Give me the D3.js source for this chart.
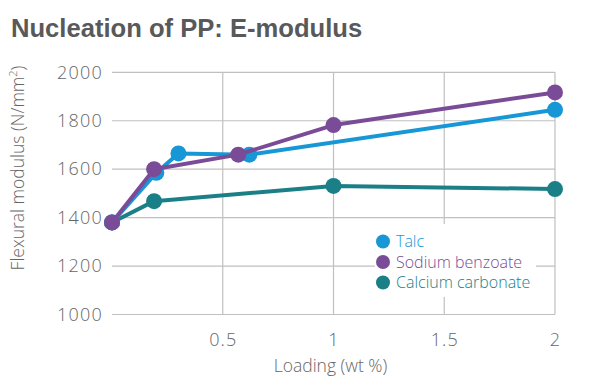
<!DOCTYPE html>
<html>
<head>
<meta charset="utf-8">
<script src="https://cdn.jsdelivr.net/npm/d3@7"></script>
<style>
  body { margin: 0; background: #fff; }
  text { font-family: "Open Sans", sans-serif; }
</style>
</head>
<body>
<div class="chart-box"></div>
<script>
// chart data
const talcX = [0, 0.2, 0.3, 0.62, 2];
const talcY = [1380, 1585, 1665, 1660, 1845];
const sodiumX = [0, 0.19, 0.57, 1, 2];
const sodiumY = [1380, 1600, 1660, 1782, 1917];
const calciumX = [0, 0.19, 1, 2];
const calciumY = [1380, 1468, 1531, 1518];
const xTicks = [0.5, 1, 1.5, 2];
const yTicks = [1000, 1200, 1400, 1600, 1800, 2000];
const legendNames = ["Talc", "Sodium benzoate", "Calcium carbonate"];

const colors = {
    "Talc": "#1797d6",
    "Sodium benzoate": "#7a4b96",
    "Calcium carbonate": "#1b7f88"
};

// draw order: teal, blue, purple (purple sits on top at the left)
const series = [
    { name: "Calcium carbonate", pts: calciumX.map((x, i) => ({ x: x, y: calciumY[i] })) },
    { name: "Talc", pts: talcX.map((x, i) => ({ x: x, y: talcY[i] })) },
    { name: "Sodium benzoate", pts: sodiumX.map((x, i) => ({ x: x, y: sodiumY[i] })) }
];

const svg = d3.select(".chart-box").append("svg")
    .attr("width", 596)
    .attr("height", 389);

//title
svg.append("text")
    .attr("x", 11)
    .attr("y", 37)
    .attr("font-size", "25.6px")
    .attr("font-weight", "bold")
    .attr("fill", "#58595b")
    .style("font-family", "'Liberation Sans', Arial, sans-serif")
    .text("Nucleation of PP: E-modulus");

const xScale = d3.scaleLinear().domain([0, 2]).range([112, 555]);
const yScale = d3.scaleLinear().domain([1000, 2000]).range([314.5, 72.3]);

//grid lines
const grid = svg.append("g");
grid.selectAll(".hgrid")
    .data(yTicks)
    .enter().append("line")
    .attr("x1", xScale(0))
    .attr("x2", xScale(2))
    .attr("y1", (d) => yScale(d))
    .attr("y2", (d) => yScale(d))
    .attr("stroke", "#c0c0c0")
    .attr("stroke-width", 1.2);
grid.selectAll(".vgrid")
    .data(xTicks)
    .enter().append("line")
    .attr("x1", (d) => xScale(d))
    .attr("x2", (d) => xScale(d))
    .attr("y1", yScale(2000))
    .attr("y2", yScale(1000))
    .attr("stroke", "#c0c0c0")
    .attr("stroke-width", 1.2);

//tick labels
const xAxis = svg.append("g")
    .attr("transform", "translate(0," + yScale(1000) + ")")
    .call(d3.axisBottom(xScale).tickValues(xTicks).tickSize(0).tickPadding(19).tickFormat((d) => d));
xAxis.select(".domain").remove();
xAxis.selectAll("text")
    .attr("font-size", "18px")
    .attr("fill", "#666")
    .attr("letter-spacing", "1px")
    .style("font-family", "'Open Sans', sans-serif")
    .style("font-weight", 300);

const yAxis = svg.append("g")
    .attr("transform", "translate(" + xScale(0) + ",0)")
    .call(d3.axisLeft(yScale).tickValues(yTicks).tickSize(0).tickPadding(9).tickFormat((d) => d));
yAxis.select(".domain").remove();
yAxis.selectAll("text")
    .attr("font-size", "18px")
    .attr("fill", "#666")
    .attr("letter-spacing", "1.2px")
    .style("font-family", "'Open Sans', sans-serif")
    .style("font-weight", 300);

svg.append("text")
    .attr("x", xScale(1) - 3)
    .attr("y", 372)
    .attr("text-anchor", "middle")
    .attr("font-size", "17.5px")
    .attr("fill", "#666")
    .style("font-weight", 300)
    .text("Loading (wt %)");

svg.append("text")
    .attr("transform", "translate(24,168) rotate(-90)")
    .attr("text-anchor", "middle")
    .attr("font-size", "17.5px")
    .attr("fill", "#666")
    .style("font-weight", 300)
    .html("Flexural modulus (N/mm<tspan dy='-7' font-size='11px'>2</tspan><tspan dy='7'>)</tspan>");

//lines and dots
const line = d3.line().x((d) => xScale(d.x)).y((d) => yScale(d.y));
series.forEach((s) => {
    const g = svg.append("g");
    g.append("path")
        .datum(s.pts)
        .attr("d", line)
        .attr("fill", "none")
        .attr("stroke", colors[s.name])
        .attr("stroke-width", 4)
        .attr("stroke-linejoin", "round");
    g.selectAll("circle")
        .data(s.pts)
        .enter().append("circle")
        .attr("cx", (d) => xScale(d.x))
        .attr("cy", (d) => yScale(d.y))
        .attr("r", 8)
        .attr("fill", colors[s.name]);
});

//legend
const legend = svg.append("g");
legend.append("rect")
    .attr("x", 375)
    .attr("y", 224)
    .attr("width", 161)
    .attr("height", 73)
    .attr("fill", "#fff");
legendNames.forEach((name, i) => {
    const y = 241.5 + i * 20.5;
    legend.append("circle")
        .attr("cx", 383)
        .attr("cy", y)
        .attr("r", 7)
        .attr("fill", colors[name]);
    legend.append("text")
        .attr("x", 396)
        .attr("y", y + 5.5)
        .attr("font-size", "16px")
        .attr("fill", colors[name])
        .style("font-weight", 300)
        .text(name);
});
</script>
</body>
</html>
